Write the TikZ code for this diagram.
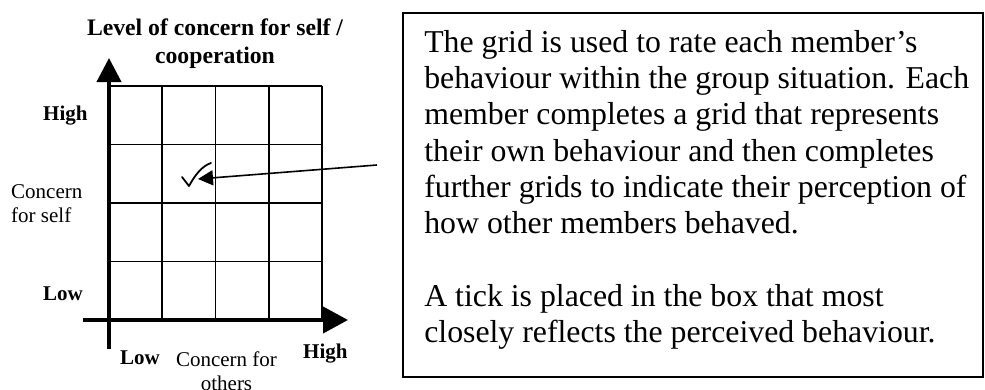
\documentclass[tikz,border=0pt]{standalone}
\usepackage{fontspec}
\setmainfont{Liberation Serif}
\usetikzlibrary{arrows.meta,positioning,calc}

\begin{document}
\begin{tikzpicture}[x=1pt,y=-1pt,
    axis/.style={line width=4pt},
    cell/.style={line width=1.6pt},
    pointer/.style={line width=1.6pt,-{Triangle[length=15pt,width=15pt]}},
    lbl/.style={font=\fontsize{21}{24}\selectfont,inner sep=0pt},
    lblb/.style={lbl,font=\fontsize{21}{24}\selectfont\bfseries}]
    \useasboundingbox (0,0) rectangle (985,389);

    % rating grid
    \foreach \x in {162.25,215.5,268.75,322}
        \draw[cell] (\x,86) -- (\x,320);
    \foreach \y in {86,144.5,203,261.5}
        \draw[cell] (109,\y) -- (322,\y);

    % axes
    \coordinate (yfoot) at (109,349);
    \coordinate (ytop) at (109,58);
    \coordinate (xfoot) at (83,320);
    \coordinate (xend) at (348,320);
    \draw[axis,-{Triangle[length=24pt,width=24pt]}] (yfoot) -- (ytop);
    \draw[axis,-{Triangle[length=25pt,width=26pt]}] (xfoot) -- (xend);

    % base anchor of a two-line node sits on its last line
    \node[font=\fontsize{23.7}{28}\selectfont\bfseries,align=center,anchor=base,inner sep=0pt] (title) at (215,63) {Level of concern for self /\\cooperation};
    \node[lblb,anchor=base west] (yhigh) at (43,120) {High};
    \node[lbl,anchor=base west,align=left] (yname) at (11,222) {Concern\\for self};
    \node[lblb,anchor=base west] (ylow) at (43,300) {Low};
    \node[lblb,anchor=base west] (xlow) at (120,364) {Low};
    \node[lbl,anchor=base,align=center] (xname) at (226.5,390) {Concern for\\others};
    \node[lblb,anchor=base west] (xhigh) at (303,358) {High};

    % tick mark and pointer
    \draw[line width=1.8pt,line cap=round,line join=round]
        (182,177) -- (189,186) .. controls (195,175) and (202,166) .. (211,163);
    \coordinate (tick) at (198,179);
    \coordinate (pstart) at (377,165);
    \draw[pointer] (pstart) -- (tick);

    % explanation
    \node[draw,line width=1.8pt,minimum width=580pt,minimum height=364pt,inner sep=0pt] (descbox) at (693,195) {};
    \node[below right=18pt and 22pt of descbox.north west,inner sep=0pt,align=left,
        font=\fontsize{31.8}{36.3}\selectfont] (desc)
        {The grid is used to rate each member’s\\
         behaviour within the group situation. Each\\
         member completes a grid that represents\\
         their own behaviour and then completes\\
         further grids to indicate their perception of\\
         how other members behaved.\\[36.3pt]
         A tick is placed in the box that most\\
         closely reflects the perceived behaviour.};
\end{tikzpicture}
\end{document}
